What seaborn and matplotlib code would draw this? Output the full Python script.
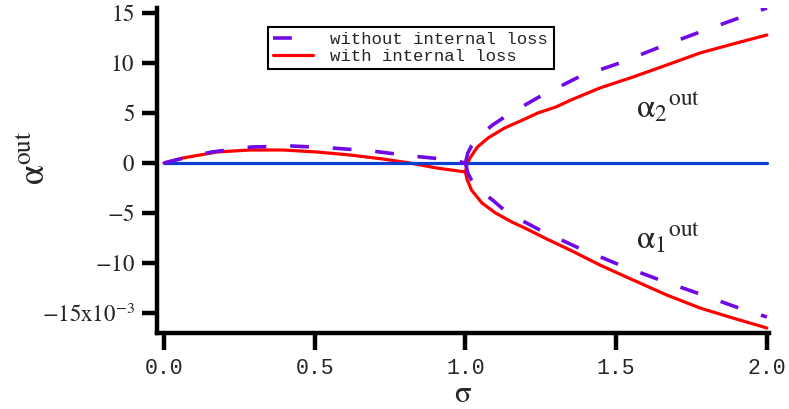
import matplotlib
matplotlib.use('Agg')

import numpy as np
import pandas as pd
import matplotlib.pyplot as plt
import seaborn as sns

# values, alpha in units of 1e-3
# without internal loss (dashed)
x_nl_low = [0.0, 0.08, 0.159, 0.29, 0.425, 0.557, 0.69, 0.823, 0.955, 1.0]
y_nl_low = [0.0, 0.6, 1.1, 1.6, 1.7, 1.5, 1.2, 0.7, 0.3, 0.0]
x_nl_up = [1.0, 1.008, 1.02, 1.05, 1.09, 1.14, 1.244, 1.376, 1.512, 1.645, 1.778, 1.907, 2.0]
y_nl_up = [0.0, 1.0, 1.7, 2.8, 3.8, 4.8, 6.6, 8.6, 10.0, 11.6, 13.1, 14.5, 15.5]
x_nl_dn = [1.0, 1.008, 1.02, 1.05, 1.09, 1.14, 1.247, 1.376, 1.512, 1.645, 1.778, 1.907, 2.0]
y_nl_dn = [0.0, -1.0, -1.7, -2.8, -3.7, -5.0, -6.7, -8.5, -10.2, -11.7, -13.1, -14.5, -15.4]

# with internal loss (solid red)
x_wl_low = [0.0, 0.063, 0.176, 0.285, 0.395, 0.507, 0.617, 0.726, 0.816, 0.905, 1.0]
y_wl_low = [0.0, 0.5, 1.1, 1.3, 1.3, 1.1, 0.8, 0.4, 0.0, -0.5, -0.9]
x_wl_up = [1.0, 1.005, 1.015, 1.04, 1.075, 1.13, 1.19, 1.24, 1.30, 1.35, 1.446, 1.556, 1.668, 1.778, 1.887, 2.0]
y_wl_up = [-0.9, -0.2, 0.5, 1.6, 2.5, 3.5, 4.3, 5.0, 5.6, 6.3, 7.5, 8.6, 9.8, 11.0, 11.9, 12.8]
x_wl_dn = [1.0, 1.005, 1.02, 1.055, 1.10, 1.154, 1.197, 1.27, 1.347, 1.446, 1.556, 1.668, 1.778, 1.887, 2.0]
y_wl_dn = [-0.9, -1.6, -2.7, -4.0, -5.0, -5.9, -6.5, -7.6, -8.7, -10.2, -11.7, -13.2, -14.5, -15.5, -16.5]

# trivial solution
x_zero = [0.0, 2.0]
y_zero = [0.0, 0.0]

x_ticks = [0.0, 0.5, 1.0, 1.5, 2.0]
x_ticklabels = ['0.0', '0.5', '1.0', '1.5', '2.0']
y_ticks = [-15, -10, -5, 0, 5, 10, 15]
y_ticklabels = [r'$-15\mathrm{x}10^{-3}$', r'$-10$', r'$-5$', r'$0$', r'$5$', r'$10$', r'$15$']

purple = '#6f0ae6'
red = '#ff0000'
blue = '#0a3fd0'

sns.set_style('ticks')
plt.rcParams['mathtext.fontset'] = 'stix'
plt.rcParams['font.family'] = ['Liberation Serif', 'DejaVu Serif']

fig = plt.figure(figsize=(7.89, 4.09), dpi=100)
ax = fig.add_axes([157 / 789, 1 - 333 / 409, 612 / 789, 325 / 409])

dash = (0, (5.2, 6.6))
lw_d = 2.6

sns.lineplot(x=x_wl_low, y=y_wl_low, ax=ax, color=red, lw=2.3, sort=False, label='with internal loss')
sns.lineplot(x=x_wl_up, y=y_wl_up, ax=ax, color=red, lw=2.3, sort=False)
sns.lineplot(x=x_wl_dn, y=y_wl_dn, ax=ax, color=red, lw=2.3, sort=False)
sns.lineplot(x=x_zero, y=y_zero, ax=ax, color=blue, lw=2.3, sort=False)
sns.lineplot(x=x_nl_low, y=y_nl_low, ax=ax, color=purple, lw=lw_d, sort=False,
             linestyle=dash, label='without internal loss')
sns.lineplot(x=x_nl_up, y=y_nl_up, ax=ax, color=purple, lw=lw_d, sort=False, linestyle=dash)
sns.lineplot(x=x_nl_dn, y=y_nl_dn, ax=ax, color=purple, lw=lw_d, sort=False, linestyle=dash)

ax.set_xlim(-0.023, 2.007)
ax.set_ylim(-17.0, 15.5)

ax.set_xticks(x_ticks)
ax.set_xticklabels(x_ticklabels, family='Liberation Mono', fontsize=15.5)
ax.set_yticks(y_ticks)
ax.set_yticklabels(y_ticklabels, fontsize=16.5)
ax.tick_params(axis='both', direction='out', width=3.2, length=11, color='black', pad=5)
ax.tick_params(axis='x', length=12, pad=6)
for s in ['left', 'bottom']:
    ax.spines[s].set_linewidth(3.2)
    ax.spines[s].set_color('black')
sns.despine(ax=ax)

ax.set_xlabel(r'$\mathrm{\sigma}$', fontsize=22)
ax.xaxis.set_label_coords(0.5, -0.145)
ax.set_ylabel(r'$\mathrm{\alpha}^{\mathrm{out}}$', fontsize=26, rotation=90)
ax.yaxis.set_label_coords(-0.17, 0.54)

ax.text(1.565, 4.6, r'$\mathrm{\alpha}_{2}{}^{\mathrm{out}}$', fontsize=24, ha='left', va='baseline')
ax.text(1.565, -8.5, r'$\mathrm{\alpha}_{1}{}^{\mathrm{out}}$', fontsize=24, ha='left', va='baseline')

handles, labels = ax.get_legend_handles_labels()
order = [labels.index('without internal loss'), labels.index('with internal loss')]
leg = ax.legend([handles[i] for i in order], [labels[i] for i in order],
                loc='upper left', bbox_to_anchor=((268 - 157) / 612, (333 - 27) / 325),
                prop={'family': 'Liberation Mono', 'size': 12.5},
                frameon=True, fancybox=False, edgecolor='black', framealpha=1,
                handlelength=2.3, handletextpad=1.0, borderpad=0.3, labelspacing=0.1,
                borderaxespad=0)
leg.get_frame().set_linewidth(1.5)

fig.savefig('out.png', dpi=100)
